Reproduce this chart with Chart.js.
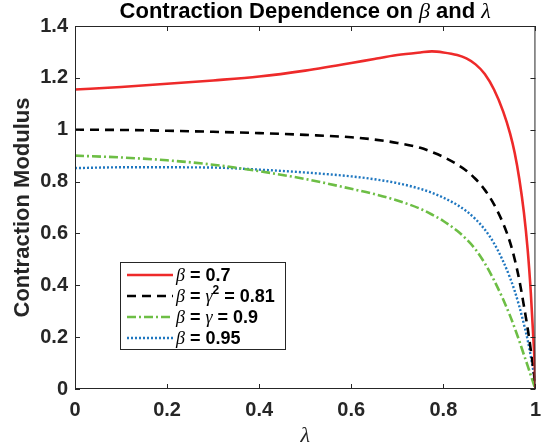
<!DOCTYPE html>
<html>
<head>
<meta charset="utf-8">
<script src="https://cdn.jsdelivr.net/npm/chart.js@4.4.1/dist/chart.umd.min.js"></script>
<style>
  html, body { margin: 0; padding: 0; background: #fff; }
</style>
</head>
<body>
<canvas id="chart" width="550" height="447"></canvas>
<script>
// -------- data --------
const lambdas = [0, 0.1, 0.2, 0.3, 0.4, 0.5, 0.6, 0.65, 0.7, 0.75, 0.775, 0.8, 0.83, 0.85, 0.87,
  0.89, 0.91, 0.93, 0.945, 0.955, 0.965, 0.975, 0.983, 0.99, 0.995, 0.998, 1.0];

const beta070 = [1.155, 1.165, 1.177, 1.190, 1.205, 1.228, 1.257, 1.273, 1.288, 1.298, 1.302, 1.298, 1.288, 1.275, 1.252,
  1.215, 1.155, 1.070, 0.985, 0.910, 0.810, 0.680, 0.540, 0.370, 0.210, 0.110, 0];
const beta081 = [1.000, 0.999, 0.996, 0.992, 0.987, 0.980, 0.971, 0.962, 0.949, 0.930, 0.914, 0.895, 0.866, 0.842, 0.810,
  0.768, 0.712, 0.638, 0.565, 0.500, 0.420, 0.320, 0.235, 0.150, 0.085, 0.040, 0];
const beta090 = [0.900, 0.893, 0.882, 0.865, 0.840, 0.810, 0.772, 0.752, 0.727, 0.695, 0.673, 0.648, 0.610, 0.578, 0.538,
  0.485, 0.420, 0.345, 0.282, 0.235, 0.185, 0.132, 0.090, 0.052, 0.026, 0.010, 0];
const beta095 = [0.852, 0.855, 0.855, 0.854, 0.846, 0.835, 0.820, 0.809, 0.794, 0.772, 0.757, 0.738, 0.710, 0.686, 0.655,
  0.615, 0.562, 0.492, 0.428, 0.378, 0.318, 0.250, 0.190, 0.125, 0.075, 0.035, 0];

const xTickLabels = ["0", "0.2", "0.4", "0.6", "0.8", "1"];
const yTickLabels = ["0", "0.2", "0.4", "0.6", "0.8", "1", "1.2", "1.4"];

// legend text pieces: [text, style]  i = italic serif, b = bold sans, sup = superscript
const legendLabels = [
  [["β", "i"], [" = 0.7", "b"]],
  [["β", "i"], [" = ", "b"], ["γ", "i"], ["2", "sup"], [" = 0.81", "b"]],
  [["β", "i"], [" = ", "b"], ["γ", "i"], [" = 0.9", "b"]],
  [["β", "i"], [" = 0.95", "b"]]
];
const titleParts = [["Contraction Dependence on ", "b"], ["β", "i"], [" and ", "b"], ["λ", "i"]];

// -------- styles --------
const AX = "#262626";
const SANS = '"Liberation Sans", Arial, Helvetica, sans-serif';
const SERIF = '"Liberation Serif", "Times New Roman", serif';
const styles = [
  { color: "#EE2A2A", dash: [], width: 2.6 },
  { color: "#000000", dash: [9, 6], width: 2.6 },
  { color: "#6DBE45", dash: [9, 3, 2, 3], width: 2.6 },
  { color: "#1F77C0", dash: [2, 2], width: 2.4 }
];

const toPts = (ys) => ys.map((v, i) => ({ x: lambdas[i], y: v }));

// mixed-font text helper (bold sans + italic serif greek)
function drawRich(ctx, parts, x, y, size, align) {
  const fontOf = (s) => s === "i" ? `italic ${size}px ${SERIF}`
    : s === "sup" ? `bold ${Math.round(size * 0.68)}px ${SANS}` : `bold ${size}px ${SANS}`;
  let total = 0;
  for (const [t, s] of parts) { ctx.font = fontOf(s); total += ctx.measureText(t).width; }
  let cx = align === "center" ? x - total / 2 : x;
  ctx.textAlign = "left";
  ctx.textBaseline = "alphabetic";
  for (const [t, s] of parts) {
    ctx.font = fontOf(s);
    ctx.fillText(t, cx, s === "sup" ? y - size * 0.45 : y);
    cx += ctx.measureText(t).width;
  }
}

// -------- box, inward ticks, title, legend --------
const frame = {
  id: "frame",
  afterDatasetsDraw(chart) {
    const { ctx, chartArea: a, scales: { x, y } } = chart;
    ctx.save();
    ctx.strokeStyle = AX;
    ctx.lineWidth = 1;
    ctx.setLineDash([]);
    ctx.strokeRect(a.left + 0.5, a.top + 0.5, a.right - a.left - 1, a.bottom - a.top - 1);
    const tl = 5;
    ctx.beginPath();
    for (const t of x.ticks) {
      const px = Math.round(x.getPixelForValue(t.value)) + 0.5;
      ctx.moveTo(px, a.bottom); ctx.lineTo(px, a.bottom - tl);
      ctx.moveTo(px, a.top); ctx.lineTo(px, a.top + tl);
    }
    for (const t of y.ticks) {
      const py = Math.round(y.getPixelForValue(t.value)) + 0.5;
      ctx.moveTo(a.left, py); ctx.lineTo(a.left + tl, py);
      ctx.moveTo(a.right, py); ctx.lineTo(a.right - tl, py);
    }
    ctx.stroke();

    // title
    ctx.fillStyle = "#000";
    drawRich(ctx, titleParts, (a.left + a.right) / 2, 18, 22, "center");

    // legend
    const bx = 120, by = 262, bw = 165, bh = 87;
    ctx.fillStyle = "#fff";
    ctx.fillRect(bx, by, bw, bh);
    ctx.strokeStyle = AX;
    ctx.strokeRect(bx + 0.5, by + 0.5, bw, bh);
    chart.data.datasets.forEach((ds, i) => {
      const rowY = by + 13 + i * 21;
      ctx.strokeStyle = ds.borderColor;
      ctx.lineWidth = ds.borderWidth;
      ctx.setLineDash(ds.borderDash);
      ctx.beginPath();
      ctx.moveTo(127, rowY);
      ctx.lineTo(173, rowY);
      ctx.stroke();
      ctx.setLineDash([]);
      ctx.fillStyle = "#000";
      drawRich(ctx, legendLabels[i], 176, rowY + 6, 18, "left");
    });
    ctx.restore();
  }
};

const tickFont = { family: SANS, size: 20, weight: "bold" };

new Chart(document.getElementById("chart"), {
  type: "line",
  data: {
    datasets: [beta070, beta081, beta090, beta095].map((ys, i) => ({
      data: toPts(ys),
      borderColor: styles[i].color,
      borderDash: styles[i].dash,
      borderWidth: styles[i].width,
      pointRadius: 0,
      fill: false,
      cubicInterpolationMode: "monotone"
    }))
  },
  options: {
    responsive: false,
    animation: false,
    devicePixelRatio: 1,
    layout: { padding: { left: 0, right: 7, top: 26, bottom: 0 } },
    plugins: { legend: { display: false }, title: { display: false }, tooltip: { enabled: false } },
    scales: {
      x: {
        type: "linear", min: 0, max: 1,
        ticks: { stepSize: 0.2, autoSkip: false, maxRotation: 0, padding: 9, color: AX, font: tickFont,
          callback: (v, i) => xTickLabels[i] },
        grid: { display: false, drawTicks: false },
        border: { display: false },
        title: { display: true, text: "λ", color: AX, padding: 0,
          font: { family: SERIF, size: 22, style: "italic", lineHeight: 1 } },
        afterFit: (s) => { s.height = 58; }
      },
      y: {
        type: "linear", min: 0, max: 1.4,
        ticks: { stepSize: 0.2, autoSkip: false, padding: 7, color: AX, font: tickFont,
          callback: (v, i) => yTickLabels[i] },
        grid: { display: false, drawTicks: false },
        border: { display: false },
        title: { display: true, text: "Contraction Modulus", color: AX, padding: { top: 10, bottom: 0 },
          font: { family: SANS, size: 22, weight: "bold" } },
        afterFit: (s) => { s.width = 75; }
      }
    }
  },
  plugins: [frame]
});
</script>
</body>
</html>
